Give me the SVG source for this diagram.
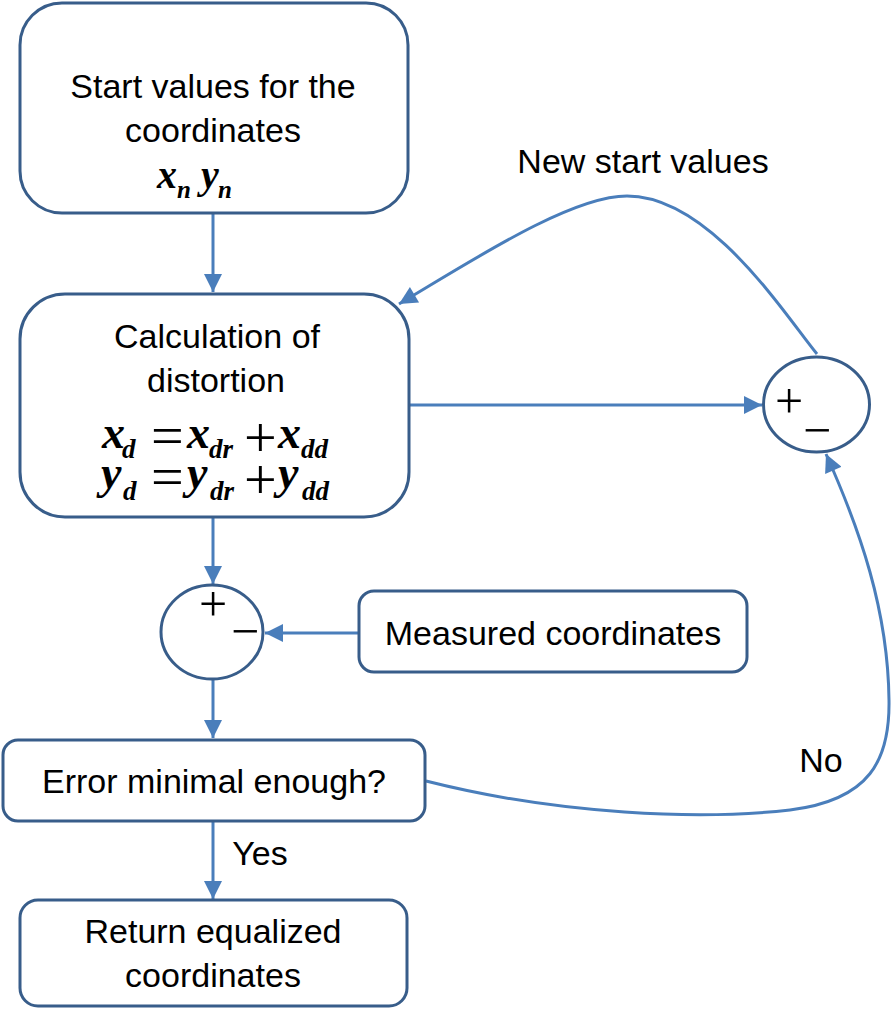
<svg xmlns="http://www.w3.org/2000/svg" width="892" height="1010" viewBox="0 0 892 1010">
<style>
.box{fill:#fff;stroke:#385D8A;stroke-width:3}
.con{fill:none;stroke:#4A7EBB;stroke-width:3}
.t{font-family:"Liberation Sans",Arial,sans-serif;font-size:34px;fill:#000;text-anchor:middle}
.m{font-family:"Liberation Serif","Times New Roman",serif;font-style:italic;font-weight:bold;font-size:46px;fill:#000}
.ms{font-family:"Liberation Serif","Times New Roman",serif;font-style:italic;font-weight:bold;font-size:27px;fill:#000}
.op{font-family:"Liberation Serif","Times New Roman",serif;font-size:58px;fill:#000}
.pm{font-family:"Liberation Serif","Times New Roman",serif;font-size:50px;fill:#000;text-anchor:middle}
</style>
<defs>
<marker id="ah" viewBox="0 0 10 10" refX="10" refY="5" markerWidth="20" markerHeight="18" markerUnits="userSpaceOnUse" orient="auto">
<path d="M0,0 L10,5 L0,10 z" fill="#4A7EBB"/>
</marker>
</defs>

<g id="connectors">
<line class="con" x1="213" y1="213" x2="213" y2="292" marker-end="url(#ah)"/>
<line class="con" x1="409" y1="405" x2="762" y2="405" marker-end="url(#ah)"/>
<path class="con" d="M817 354 C785 315 710 196 627 196 C570 196 470 262 399 304" marker-end="url(#ah)"/>
<line class="con" x1="213" y1="517" x2="213" y2="584" marker-end="url(#ah)"/>
<line class="con" x1="359" y1="633" x2="265" y2="633" marker-end="url(#ah)"/>
<line class="con" x1="213" y1="680" x2="213" y2="738" marker-end="url(#ah)"/>
<path class="con" d="M426 781 C560 815 700 820 790 810 C870 800 890 760 889 700 C888 610 860 530 826 454" marker-end="url(#ah)"/>
<line class="con" x1="213" y1="822" x2="213" y2="899" marker-end="url(#ah)"/>
<text class="t" x="643" y="173">New start values</text>
<text class="t" x="821" y="772">No</text>
<text class="t" x="260" y="865">Yes</text>
</g>

<g id="start">
<rect class="box" x="20" y="3" width="388" height="210" rx="42"/>
<text class="t" x="213" y="98">Start values for the</text>
<text class="t" x="213" y="142">coordinates</text>
<text><tspan class="m" x="157" y="188" style="font-size:40px">x</tspan><tspan class="ms" x="177" y="198" style="font-size:25px">n</tspan><tspan class="m" x="201" y="188" style="font-size:40px">y</tspan><tspan class="ms" x="218" y="198" style="font-size:25px">n</tspan></text>
</g>

<g id="calc">
<rect class="box" x="20" y="294" width="389" height="223" rx="45"/>
<text class="t" x="217" y="348">Calculation of</text>
<text class="t" x="216" y="392">distortion</text>
<text><tspan class="m" x="102" y="448">x</tspan><tspan class="ms" x="122" y="458">d</tspan><tspan class="op" x="151" y="455">=</tspan><tspan class="m" x="187" y="448">x</tspan><tspan class="ms" x="209" y="458">dr</tspan><tspan class="op" x="244" y="457">+</tspan><tspan class="m" x="278" y="448">x</tspan><tspan class="ms" x="301" y="458">dd</tspan></text>
<text><tspan class="m" x="101" y="488">y</tspan><tspan class="ms" x="123" y="500">d</tspan><tspan class="op" x="151" y="496">=</tspan><tspan class="m" x="187" y="488">y</tspan><tspan class="ms" x="210" y="500">dr</tspan><tspan class="op" x="244" y="499">+</tspan><tspan class="m" x="278" y="488">y</tspan><tspan class="ms" x="302" y="500">dd</tspan></text>
</g>

<g id="sum2">
<ellipse class="box" cx="816.5" cy="404.5" rx="53" ry="47.5"/>
<text class="pm" x="789" y="418">+</text>
<text class="pm" x="817" y="447">−</text>
</g>

<g id="sum1">
<ellipse class="box" cx="212" cy="632" rx="51" ry="47"/>
<text class="pm" x="213" y="621">+</text>
<text class="pm" x="245" y="648">−</text>
</g>

<g id="measured">
<rect class="box" x="359" y="591" width="388" height="81" rx="15"/>
<text class="t" x="553" y="645">Measured coordinates</text>
</g>

<g id="error">
<rect class="box" x="3" y="740" width="422" height="81" rx="15"/>
<text class="t" x="214" y="793">Error minimal enough?</text>
</g>

<g id="return">
<rect class="box" x="20" y="900" width="387" height="106" rx="18"/>
<text class="t" x="213" y="943">Return equalized</text>
<text class="t" x="213" y="987">coordinates</text>
</g>
</svg>
